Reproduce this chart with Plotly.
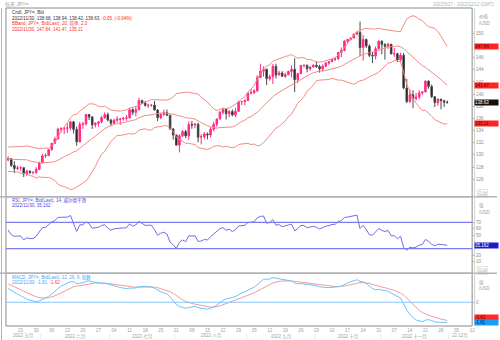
import pandas as pd
import plotly.graph_objects as go

W, H = 500, 340

# daily bars, JPY= bid
dates = pd.bdate_range("2022-05-17", "2022-11-30")

open_ = [129.17,129.38,128.26,127.77,127.87,127.89,126.86,127.32,127.11,127.12,
127.60,128.67,129.84,129.90,130.87,131.91,132.61,134.25,134.35,134.39,
134.42,135.44,134.20,132.16,135.00,135.08,136.65,136.23,134.95,135.19,
135.44,136.13,136.62,135.73,135.21,135.71,135.86,135.94,136.03,136.10,
137.43,137.00,137.43,138.93,138.54,138.15,138.18,138.19,137.37,136.13,
136.67,136.94,136.54,134.26,133.27,131.61,133.15,133.83,133.13,135.02,
134.92,135.04,132.92,133.00,133.45,133.29,134.22,135.03,135.89,137.01,
137.48,136.76,137.14,136.57,137.17,138.72,138.77,138.97,140.20,140.21,
140.55,142.74,143.76,144.10,142.55,142.85,144.56,143.16,143.48,142.92,
143.20,143.73,144.08,142.38,143.35,144.72,144.73,144.16,144.46,144.74,
144.53,144.14,144.59,145.10,145.33,145.72,145.80,146.84,147.18,148.71,
148.98,149.22,149.88,150.14,147.65,148.98,147.91,146.38,146.26,147.46,
148.70,148.17,147.87,148.21,146.61,146.64,145.63,146.40,141.01,138.77,
139.90,139.27,139.53,140.19,140.37,142.14,141.24,139.58,138.59,139.18,
138.92,138.68]
high = [129.78,129.46,128.98,128.20,128.16,127.99,127.57,127.50,127.35,127.99,
128.90,130.19,130.23,130.98,131.93,133.00,134.46,134.56,134.57,135.19,
135.60,135.59,134.68,135.43,135.45,136.71,136.71,136.36,135.38,135.57,
136.38,137.00,136.98,135.92,135.93,136.38,136.01,136.22,136.57,137.75,
137.68,137.86,139.38,139.07,138.88,138.40,138.37,138.88,137.52,136.82,
137.46,137.47,136.57,134.42,133.33,133.45,134.09,134.11,135.50,135.58,
135.24,135.29,133.40,133.75,133.69,134.58,135.47,136.00,137.22,137.71,
137.70,137.36,137.48,137.75,138.93,138.85,139.08,140.23,140.80,140.78,
143.07,144.99,144.55,144.20,143.20,144.95,145.00,143.85,143.78,143.54,
143.85,144.70,145.90,143.51,144.78,144.86,144.88,144.57,144.91,145.40,
144.83,144.88,145.28,145.42,145.73,145.89,146.91,147.66,148.86,149.09,
149.28,149.90,150.29,151.94,149.70,149.13,148.18,146.91,147.84,148.83,
148.84,148.36,148.40,148.24,147.57,146.81,146.80,146.80,142.49,140.80,
140.66,140.20,140.67,140.48,142.25,142.25,141.59,139.60,139.28,139.20,
139.00,138.94]
low = [128.98,128.02,127.03,127.52,127.40,126.36,126.56,126.85,126.80,126.87,
127.50,128.65,129.51,129.79,130.68,131.78,132.57,133.67,133.44,133.60,
134.05,133.53,131.50,132.03,134.27,134.86,135.75,134.27,134.53,134.65,
135.18,135.94,135.50,134.74,135.09,135.37,134.94,135.63,135.63,135.99,
136.53,136.36,137.38,138.36,137.93,137.73,137.91,137.37,135.57,135.85,
136.38,136.40,134.20,132.51,131.60,130.41,132.92,132.79,132.50,134.30,
134.40,132.06,131.73,132.56,132.57,132.90,133.87,134.64,135.87,136.65,
135.80,136.20,136.34,136.20,137.05,138.18,138.13,138.82,139.93,140.05,
140.35,142.67,142.86,141.50,142.23,141.66,142.55,143.08,142.91,142.65,
143.11,142.75,140.35,141.82,143.30,144.33,143.56,143.84,144.40,144.30,
143.53,143.73,144.43,144.82,145.27,145.45,145.64,146.09,147.04,148.43,
148.81,149.20,149.69,146.23,145.51,147.58,146.06,145.10,145.68,147.28,
146.56,145.68,147.42,146.55,146.12,145.30,145.34,140.79,138.50,138.57,
137.68,138.97,139.14,139.87,140.29,140.89,139.34,137.88,138.07,137.50,
137.87,138.42]
close = [129.38,128.26,127.77,127.87,127.89,126.86,127.32,127.11,127.12,127.60,
128.67,129.84,129.90,130.87,131.91,132.61,134.25,134.35,134.39,134.42,
135.44,134.20,132.16,135.00,135.08,136.65,136.23,134.95,135.19,135.44,
136.13,136.62,135.73,135.21,135.71,135.86,135.94,136.03,136.10,137.43,
137.00,137.43,138.93,138.54,138.15,138.18,138.19,137.37,136.13,136.67,
136.94,136.54,134.26,133.27,131.61,133.15,133.83,133.13,135.02,134.92,
135.04,132.92,133.00,133.45,133.29,134.22,135.03,135.89,137.01,137.48,
136.76,137.14,136.57,137.17,138.72,138.77,138.97,140.20,140.21,140.55,
142.74,143.76,144.10,142.55,142.85,144.56,143.16,143.48,142.92,143.20,
143.73,144.08,142.38,143.35,144.72,144.73,144.16,144.46,144.74,144.53,
144.14,144.59,145.10,145.33,145.72,145.80,146.84,147.18,148.71,148.98,
149.22,149.88,150.14,147.65,148.98,147.91,146.38,146.26,147.46,148.70,
148.17,147.87,148.21,146.61,146.64,145.63,146.40,141.01,138.77,139.90,
139.27,139.53,140.19,140.37,142.14,141.24,139.58,138.59,139.18,138.92,
138.68,138.63]

# Bollinger bands (20, 2.0)
bb_upper = [131.3,131.3,131.3,131.4,131.4,131.4,131.5,131.4,131.3,131.2,
131.0,131.1,131.1,131.1,131.5,132.0,133.0,133.9,134.6,135.3,
136.1,136.6,136.7,137.2,137.6,138.1,138.4,138.4,138.3,138.0,
137.9,138.0,137.7,137.4,137.3,137.2,137.2,137.3,137.4,137.7,
137.8,138.0,138.1,138.4,138.7,138.9,139.1,139.1,139.0,139.0,
139.0,139.0,139.2,139.5,140.1,140.2,140.3,140.3,140.3,140.2,
140.1,140.0,139.5,139.1,138.7,138.1,137.6,137.3,137.5,137.7,
137.6,137.7,138.0,138.3,138.7,139.2,139.6,140.3,140.9,141.4,
142.5,143.4,144.2,144.6,144.8,145.4,145.6,145.9,146.0,146.2,
146.3,146.5,146.2,145.9,146.0,146.0,145.7,145.7,145.5,145.2,
145.3,145.3,145.5,145.6,145.8,146.0,146.5,146.9,147.7,148.4,
149.1,149.8,150.3,150.4,150.7,150.8,150.7,150.7,150.7,150.8,
150.7,150.6,150.5,150.4,150.3,150.3,150.3,151.4,152.4,152.7,
152.9,152.7,152.3,152.1,151.5,151.1,151.0,150.8,150.3,149.5,
148.7,147.84]
bb_mid = [129.3,129.3,129.3,129.3,129.2,129.2,129.2,129.0,128.9,128.7,
128.7,128.7,128.7,128.7,128.8,128.9,129.1,129.4,129.7,129.9,
130.2,130.5,130.7,131.1,131.5,131.9,132.4,132.8,133.2,133.6,
134.0,134.3,134.6,134.8,135.0,135.2,135.2,135.3,135.4,135.6,
135.6,135.8,136.1,136.3,136.5,136.5,136.6,136.8,136.8,136.9,
136.9,136.9,136.8,136.7,136.5,136.4,136.3,136.1,136.1,136.0,
135.9,135.6,135.3,135.1,134.8,134.6,134.5,134.4,134.5,134.5,
134.5,134.5,134.6,134.8,135.2,135.5,135.7,136.1,136.3,136.6,
137.0,137.5,138.1,138.6,139.0,139.6,140.0,140.3,140.6,140.9,
141.3,141.6,141.9,142.2,142.5,142.8,143.1,143.3,143.5,143.7,
143.8,143.8,143.9,144.0,144.2,144.2,144.4,144.6,144.9,145.2,
145.4,145.7,146.1,146.3,146.5,146.7,146.8,146.9,147.0,147.2,
147.4,147.6,147.8,147.8,147.9,147.9,147.8,147.5,147.0,146.6,
146.1,145.6,145.1,144.7,144.4,144.0,143.7,143.3,142.9,142.4,
141.9,141.47]
bb_lower = [127.3,127.3,127.3,127.2,127.0,127.0,126.9,126.6,126.5,126.2,
126.4,126.3,126.3,126.3,126.1,125.8,125.2,124.9,124.8,124.5,
124.3,124.4,124.7,125.0,125.4,125.7,126.4,127.2,128.1,129.2,
130.1,130.6,131.5,132.2,132.7,133.2,133.2,133.3,133.4,133.5,
133.4,133.6,134.1,134.2,134.3,134.1,134.1,134.5,134.6,134.8,
134.8,134.8,134.4,133.9,132.9,132.6,132.3,131.9,131.9,131.8,
131.7,131.2,131.1,131.1,130.9,131.1,131.4,131.5,131.5,131.3,
131.4,131.3,131.2,131.3,131.7,131.8,131.8,131.9,131.7,131.8,
131.5,131.6,132.0,132.6,133.2,133.8,134.4,134.7,135.2,135.6,
136.3,136.7,137.6,138.5,139.0,139.6,140.5,140.9,141.5,142.2,
142.3,142.3,142.3,142.4,142.6,142.4,142.3,142.3,142.1,142.0,
141.7,141.6,141.9,142.2,142.3,142.6,142.9,143.1,143.3,143.6,
144.1,144.6,145.1,145.2,145.5,145.5,145.3,143.6,141.6,140.5,
139.3,138.5,137.9,137.3,137.3,136.9,136.4,135.8,135.5,135.3,
135.1,135.11]

# RSI (14, Wilder smoothing)
rsi = [58.3,51.4,48.7,49.3,49.4,43.4,46.5,45.3,45.4,48.9,
55.8,61.9,62.2,66.6,70.5,72.8,77.3,77.6,77.7,77.8,
80.4,69.5,56.1,66.0,66.2,70.4,68.0,61.0,61.8,62.6,
65.0,66.5,61.1,58.1,60.2,60.8,61.1,61.5,61.8,67.6,
64.2,66.0,71.5,68.4,65.4,65.5,65.6,58.8,50.3,53.4,
55.0,52.2,39.9,36.0,30.5,39.7,43.2,40.6,49.6,49.1,
49.7,41.1,41.6,43.9,43.2,48.2,52.1,55.9,60.3,62.0,
57.9,59.4,56.1,58.7,64.6,64.8,65.5,69.6,69.7,70.8,
76.8,78.9,79.6,68.7,69.6,74.0,65.6,66.5,63.3,64.2,
66.0,67.2,57.0,60.6,65.2,65.2,61.8,62.9,63.9,62.5,
59.8,61.9,64.1,65.0,66.7,67.0,71.2,72.5,77.2,77.9,
78.6,80.3,80.9,60.5,65.5,59.0,51.2,50.6,55.9,60.5,
57.7,56.1,57.6,49.4,49.6,44.9,48.9,31.8,27.5,32.4,
31.1,32.3,35.4,36.2,44.0,41.2,36.7,34.3,36.9,36.2,
35.6,35.162]

# MACD (12, 26, 9) and its signal line
macd = [1.24,1.06,0.87,0.72,0.59,0.41,0.29,0.18,0.09,0.06,
0.12,0.26,0.37,0.53,0.74,0.94,1.22,1.44,1.59,1.70,
1.84,1.84,1.65,1.71,1.74,1.87,1.92,1.84,1.77,1.71,
1.70,1.72,1.64,1.52,1.44,1.38,1.32,1.27,1.22,1.27,
1.26,1.28,1.39,1.44,1.43,1.40,1.37,1.26,1.06,0.94,
0.85,0.74,0.47,0.17,-0.20,-0.37,-0.44,-0.54,-0.47,-0.42,
-0.36,-0.48,-0.56,-0.58,-0.61,-0.54,-0.42,-0.25,-0.03,0.18,
0.29,0.40,0.44,0.51,0.68,0.82,0.93,1.10,1.22,1.34,
1.58,1.84,2.05,2.06,2.07,2.20,2.15,2.12,2.03,1.96,
1.92,1.90,1.72,1.64,1.67,1.67,1.61,1.57,1.54,1.48,
1.39,1.34,1.32,1.31,1.32,1.32,1.39,1.45,1.61,1.73,
1.83,1.94,2.02,1.86,1.82,1.69,1.44,1.22,1.13,1.15,
1.10,1.03,0.99,0.82,0.68,0.48,0.38,-0.13,-0.71,-1.06,
-1.38,-1.59,-1.68,-1.73,-1.60,-1.55,-1.63,-1.75,-1.78,-1.80,
-1.81,-1.81]
signal = [1.64,1.53,1.39,1.26,1.13,0.98,0.84,0.71,0.59,0.48,
0.41,0.38,0.38,0.41,0.48,0.57,0.70,0.85,1.00,1.14,
1.28,1.39,1.44,1.49,1.54,1.61,1.67,1.70,1.72,1.72,
1.71,1.71,1.70,1.66,1.62,1.57,1.52,1.47,1.42,1.39,
1.37,1.35,1.36,1.37,1.38,1.39,1.38,1.36,1.30,1.23,
1.15,1.07,0.95,0.79,0.59,0.40,0.23,0.08,-0.03,-0.11,
-0.16,-0.22,-0.29,-0.35,-0.40,-0.43,-0.43,-0.39,-0.32,-0.22,
-0.12,-0.01,0.08,0.16,0.27,0.38,0.49,0.61,0.73,0.85,
1.00,1.17,1.34,1.49,1.60,1.72,1.81,1.87,1.90,1.91,
1.92,1.91,1.87,1.83,1.79,1.77,1.74,1.70,1.67,1.63,
1.58,1.53,1.49,1.46,1.43,1.41,1.40,1.41,1.45,1.51,
1.57,1.64,1.72,1.75,1.76,1.75,1.69,1.59,1.50,1.43,
1.36,1.30,1.24,1.15,1.06,0.94,0.83,0.64,0.37,0.08,
-0.21,-0.48,-0.72,-0.92,-1.06,-1.16,-1.25,-1.35,-1.44,-1.51,
-1.57,-1.62]

# axis labels (ticks hidden behind the value tags are left out)
price_ticks = [126, 128, 130, 132, 134, 136, 138, 140, 142, 144, 146, 150]
rsi_ticks = [10, 20, 50, 60, 70]
macd_ticks = [0]
week_ticks = pd.date_range("2022-05-23", "2022-12-12", freq="7D")
week_labels = [d.strftime("%d") for d in week_ticks]
month_names = ["2022 五月", "2022 六月", "2022 七月", "2022 八月", "2022 九月",
               "2022 十月", "2022 十一月", "22 12月"]
month_centers = ["2022-05-23 21:00", "2022-06-15 12:00", "2022-07-15", "2022-08-16",
                 "2022-09-15 12:00", "2022-10-17", "2022-11-15 12:00", "2022-12-06 06:00"]
month_breaks = ["2022-05-31 12:00", "2022-06-30 12:00", "2022-07-29 12:00", "2022-08-31 12:00",
                "2022-09-30 12:00", "2022-10-31 12:00", "2022-11-30 12:00"]

FONT = "Liberation Sans, Arial, Noto Sans CJK SC, sans-serif"
PINK = "#ff2a85"
BAND = "#f38b80"
RSI_C = "#6e6ee6"
MACD_C = "#68c4ff"
SIG_C = "#f49a9a"


def fx(px):
    return px / W


def fy(px):
    return 1 - px / H


PL, PR = 6, 475
P_TOP, R_TOP, M_TOP, M_BOT = 8, 196.7, 273.3, 326

fig = go.Figure()
fig.add_trace(go.Candlestick(
    x=dates, open=open_, high=high, low=low, close=close,
    increasing=dict(line=dict(color=PINK, width=1), fillcolor=PINK),
    decreasing=dict(line=dict(color="#4a4a4a", width=1), fillcolor="#111111"),
    whiskerwidth=0, showlegend=False, hoverinfo="skip"))
for band in (bb_upper, bb_mid, bb_lower):
    fig.add_trace(go.Scatter(x=dates, y=band, mode="lines", line=dict(color=BAND, width=1),
                             showlegend=False, hoverinfo="skip"))
fig.add_trace(go.Scatter(x=dates, y=rsi, yaxis="y2", mode="lines",
                         line=dict(color=RSI_C, width=1), showlegend=False, hoverinfo="skip"))
fig.add_trace(go.Scatter(x=dates, y=signal, yaxis="y3", mode="lines",
                         line=dict(color=SIG_C, width=1), showlegend=False, hoverinfo="skip"))
fig.add_trace(go.Scatter(x=dates, y=macd, yaxis="y3", mode="lines",
                         line=dict(color=MACD_C, width=1), showlegend=False, hoverinfo="skip"))

tick_font = dict(family=FONT, size=4.5, color="#8c8c8c")
yaxis_common = dict(side="right", anchor="x", showgrid=False, zeroline=False,
                    ticks="outside", ticklen=2, tickwidth=1, tickcolor="#b0b0b0",
                    tickfont=tick_font, showline=False)

fig.update_layout(
    width=W, height=H, margin=dict(l=0, r=0, t=0, b=0),
    paper_bgcolor="white", plot_bgcolor="white", showlegend=False,
    xaxis=dict(domain=[fx(PL), fx(PR)], anchor="y3", type="date",
               rangeslider=dict(visible=False),
               rangebreaks=[dict(bounds=["sat", "mon"])],
               range=["2022-05-16 07:12", "2022-12-12"],
               showgrid=False, zeroline=False, showline=False, ticks="",
               tickvals=week_ticks, ticktext=week_labels,
               tickfont=dict(family=FONT, size=4.5, color="#a0a0a0")),
    yaxis=dict(domain=[fy(R_TOP), fy(P_TOP)], range=[123.13, 154.16],
               tickvals=price_ticks, **yaxis_common),
    yaxis2=dict(domain=[fy(M_TOP), fy(R_TOP)], range=[-7.3, 108.8],
                tickvals=rsi_ticks, **yaxis_common),
    yaxis3=dict(domain=[fy(M_BOT), fy(M_TOP)], range=[-2.12, 2.59],
                tickvals=macd_ticks, **yaxis_common),
)

shapes = []
for top, bot in ((P_TOP, R_TOP), (R_TOP, M_TOP), (M_TOP, M_BOT)):
    shapes.append(dict(type="rect", xref="paper", yref="paper", x0=fx(PL), x1=fx(PR),
                       y0=fy(bot), y1=fy(top), line=dict(color="#8a8a8a", width=1)))
for yy in (R_TOP, M_TOP):
    shapes.append(dict(type="line", xref="paper", yref="paper", x0=0, x1=1,
                       y0=fy(yy), y1=fy(yy), line=dict(color="#b4b4b4", width=1.5)))
shapes.append(dict(type="line", xref="paper", yref="paper", x0=fx(1.5), x1=fx(1.5),
                   y0=0, y1=fy(P_TOP), line=dict(color="#b4b4b4", width=1)))
shapes.append(dict(type="line", xref="paper", yref="paper", x0=fx(477.5), x1=fx(477.5),
                   y0=fy(M_BOT), y1=fy(P_TOP), line=dict(color="#d0d0d0", width=1)))
for lvl in (70, 30):
    shapes.append(dict(type="line", xref="paper", yref="y2", x0=fx(PL), x1=fx(PR),
                       y0=lvl, y1=lvl, line=dict(color="#7b7bf2", width=1.3)))
shapes.append(dict(type="line", xref="paper", yref="y3", x0=fx(PL), x1=fx(PR),
                   y0=0, y1=0, line=dict(color="#86c5f2", width=1)))
fig.update_layout(shapes=shapes)

ann = []


def text(x, y, s, color, size=4.5, anchor="left"):
    ann.append(dict(xref="paper", yref="paper", x=fx(x), y=fy(y), text=s, showarrow=False,
                    xanchor=anchor, yanchor="middle",
                    font=dict(family=FONT, size=size, color=color)))


text(3, 4.7, "每天 JPY=", "#a0a0a0", 5)
text(499, 4.7, "2022/5/17 - 2022/12/12 (GMT)", "#b0b0b0", 4.5, "right")

text(10, 12.7, "Cndl, JPY=, Bid", "#333333")
text(10, 18.3, "2022/11/30, 138.68, 138.94, 138.42, 138.63, "
     "<span style='color:#ff2020'>-0.05, (-0.04%)</span>", "#333333")
text(10, 24.0, "BBand, JPY=, Bid(Last), 20, 简单, 2.0", "#ff3030")
text(10, 29.5, "2022/11/30, 147.84, 141.47, 135.11", "#ff3030")

text(10, 200.3, "RSI, JPY=, Bid(Last), 14, 威尔德平滑", "#4a4ae0")
text(10, 205.5, "2022/11/30, 35.162", "#4a4ae0")

text(10, 277.3, "MACD, JPY=, Bid(Last), 12, 26, 9, 指数", "#3aa8f0")
text(10, 282.7, "2022/11/30, -1.81, <span style='color:#ff4040'>-1.62</span>", "#3aa8f0")

for yy, s in ((16.5, "价格"), (23.5, "/USD"), (205, "值"), (212, "/USD"),
              (282, "值"), (288.5, "/USD")):
    text(479.5, yy, s, "#9a9a9a")

for yy in (193.3, 270.0):
    ann.append(dict(xref="paper", yref="paper", x=fx(480), y=fy(yy), text="自动",
                    showarrow=False, xanchor="left", yanchor="middle",
                    bordercolor="#cccccc", borderwidth=0.5, borderpad=0.3,
                    font=dict(family=FONT, size=4.5, color="#a8a8a8")))


def tag(yref, value, s, bg, fg, shift=0):
    ann.append(dict(xref="paper", yref=yref, x=fx(477), y=value, text=s, showarrow=False,
                    xanchor="left", yanchor="middle", yshift=shift, width=23, height=5,
                    align="left", valign="middle", bgcolor=bg, borderpad=0,
                    font=dict(family=FONT, size=4.5, color=fg)))


tag("y", bb_upper[-1], "147.84", "#ff2424", "#6a0000")
tag("y", bb_mid[-1], "141.47", "#ff2424", "#6a0000")
tag("y", close[-1], "138.63", "#111111", "#ffffff")
tag("y", bb_lower[-1], "135.11", "#ff2424", "#6a0000")
tag("y2", rsi[-1], "35.162", "#1c1cc8", "#ffffff")
tag("y3", signal[-1], "-1.62", "#ff2a2a", "#6a0000", 3)
tag("y3", macd[-1], "-1.81", "#1c9cf5", "#00264d")

for name, center in zip(month_names, month_centers):
    ann.append(dict(xref="x", yref="paper", x=center, y=fy(336), text=name, showarrow=False,
                    xanchor="center", yanchor="middle",
                    font=dict(family=FONT, size=4.5, color="#a0a0a0")))
for b in month_breaks:
    ann.append(dict(xref="x", yref="paper", x=b, y=fy(336), text="|", showarrow=False,
                    xanchor="center", yanchor="middle",
                    font=dict(family=FONT, size=4.5, color="#c0c0c0")))

fig.update_layout(annotations=ann)
fig.write_html("out.html")
